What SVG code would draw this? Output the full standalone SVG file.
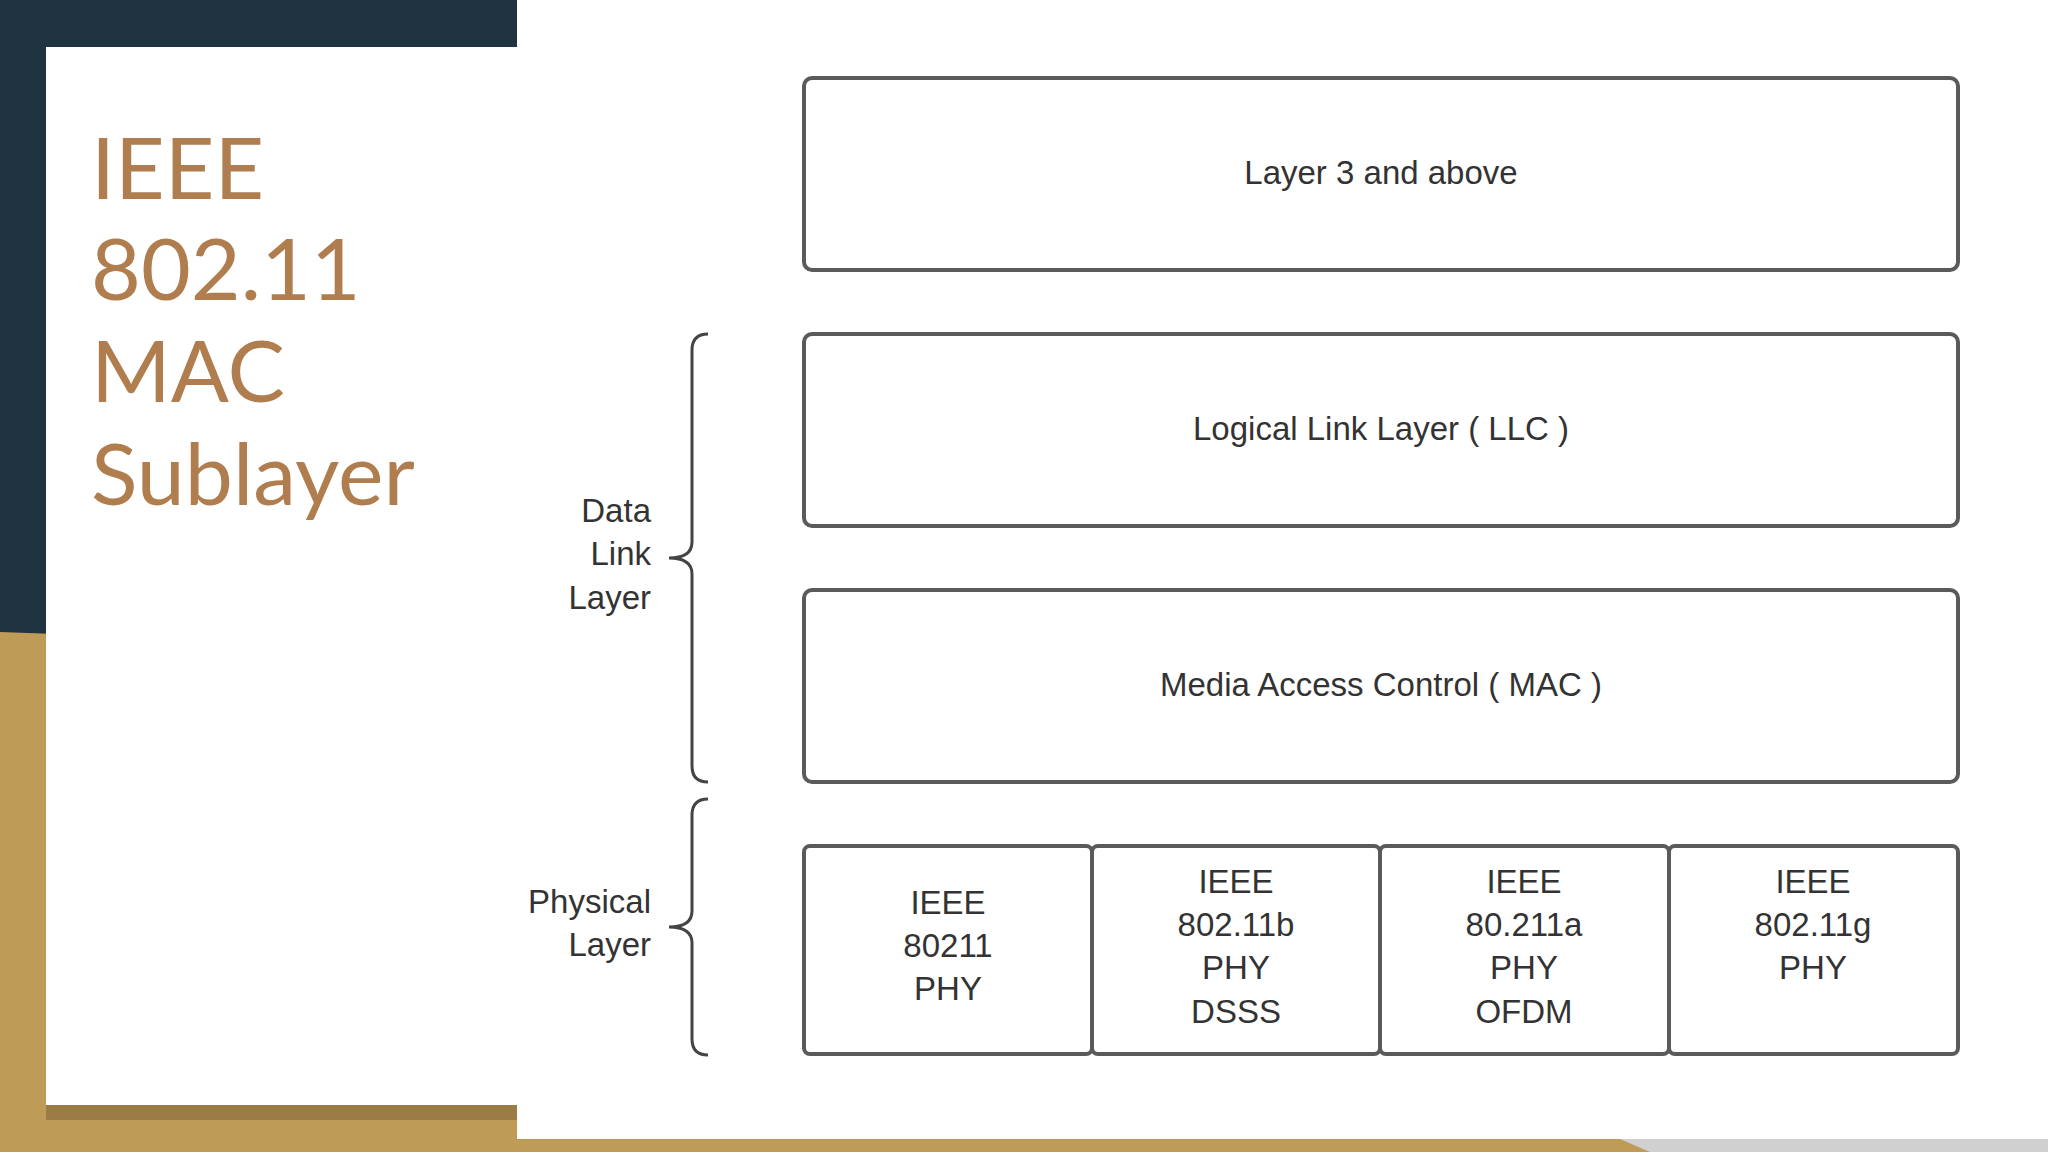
<svg xmlns="http://www.w3.org/2000/svg" width="2048" height="1152" viewBox="0 0 2048 1152">
<style>
.box{fill:#fff;stroke:#5a5a5a;stroke-width:4}
.t{font-family:"Liberation Sans",Arial,sans-serif;font-size:33px;fill:#333;text-anchor:middle}
.l{font-family:"Liberation Sans",Arial,sans-serif;font-size:33px;fill:#333;text-anchor:end}
.title{font-family:Lato,"Liberation Sans",sans-serif;font-size:86px;fill:#b07d4e}
.br{fill:none;stroke:#444;stroke-width:3}
</style>
<rect width="2048" height="1152" fill="#bf9b58"/>
<polygon points="0,0 517,0 517,650 0,632" fill="#1f3440"/>
<rect x="46" y="1100" width="471" height="20" fill="#8c6f3c" opacity="0.7"/>
<rect x="46" y="47" width="471" height="1058" fill="#fff"/>
<rect x="517" y="0" width="1531" height="1139" fill="#fff"/>
<polygon points="1620,1139 2048,1139 2048,1152 1650,1152" fill="#d0d0d0"/>
<g id="title">
<text class="title" x="91" y="199">IEEE</text>
<text class="title" x="91" y="300">802.11</text>
<text class="title" x="91" y="402">MAC</text>
<text class="title" x="91" y="505">Sublayer</text>
</g>
<g id="layer3"><rect class="box" x="804" y="78" width="1154" height="192" rx="8"/><text class="t" x="1381" y="184">Layer 3 and above</text></g>
<g id="llc"><rect class="box" x="804" y="334" width="1154" height="192" rx="8"/><text class="t" x="1381" y="440">Logical Link Layer ( LLC )</text></g>
<g id="mac"><rect class="box" x="804" y="590" width="1154" height="192" rx="8"/><text class="t" x="1381" y="696">Media Access Control ( MAC )</text></g>
<g id="phy1"><rect class="box" x="804" y="846" width="288" height="208" rx="6"/><text class="t" x="948" y="914">IEEE</text><text class="t" x="948" y="957">80211</text><text class="t" x="948" y="1000">PHY</text></g>
<g id="phy2"><rect class="box" x="1092" y="846" width="288" height="208" rx="6"/><text class="t" x="1236" y="893">IEEE</text><text class="t" x="1236" y="936">802.11b</text><text class="t" x="1236" y="979">PHY</text><text class="t" x="1236" y="1023">DSSS</text></g>
<g id="phy3"><rect class="box" x="1380" y="846" width="289" height="208" rx="6"/><text class="t" x="1524" y="893">IEEE</text><text class="t" x="1524" y="936">80.211a</text><text class="t" x="1524" y="979">PHY</text><text class="t" x="1524" y="1023">OFDM</text></g>
<g id="phy4"><rect class="box" x="1669" y="846" width="289" height="208" rx="6"/><text class="t" x="1813" y="893">IEEE</text><text class="t" x="1813" y="936">802.11g</text><text class="t" x="1813" y="979">PHY</text></g>
<g id="connectors">
<path class="br" d="M708,334 Q692,334 692,350 L692,542 Q692,558 669,558 Q692,558 692,574 L692,766 Q692,782 708,782"/>
<path class="br" d="M708,799 Q692,799 692,815 L692,911 Q692,927 669,927 Q692,927 692,943 L692,1039 Q692,1055 708,1055"/>
</g>
<g id="labels">
<text class="l" x="651" y="522">Data</text><text class="l" x="651" y="565">Link</text><text class="l" x="651" y="609">Layer</text>
<text class="l" x="651" y="913">Physical</text><text class="l" x="651" y="956">Layer</text>
</g>
</svg>
